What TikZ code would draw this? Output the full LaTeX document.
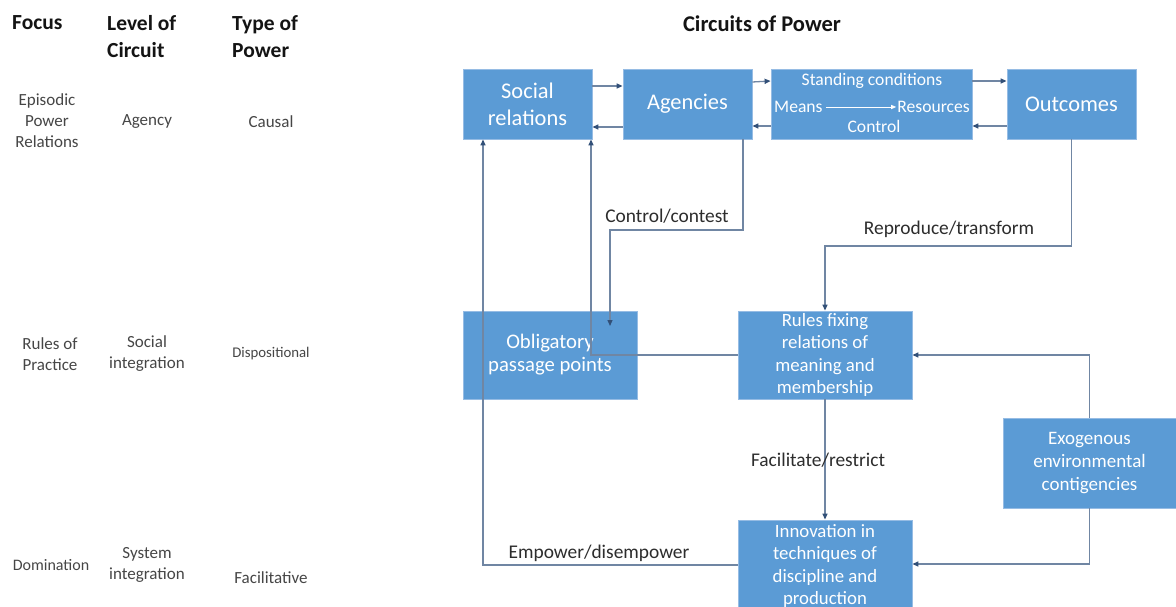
\documentclass[tikz,border=0pt]{standalone}
\usepackage{fontspec}
\setmainfont{Carlito}
\usetikzlibrary{arrows.meta}
\definecolor{boxfill}{RGB}{91,155,213}
\definecolor{boxedge}{RGB}{150,188,228}
\definecolor{wire}{RGB}{112,134,163}
\definecolor{tipc}{RGB}{50,80,120}
\definecolor{headc}{RGB}{20,20,20}
\definecolor{sidec}{RGB}{70,70,70}
\definecolor{labc}{RGB}{45,45,45}
\newcommand{\fs}[2]{\fontsize{#1}{#2}\selectfont}
\tikzset{
  box/.style={rectangle, fill=boxfill, draw=boxedge, line width=0.8pt,
    text=white, align=center, inner sep=2pt},
  wirearrow/.style={draw=wire, line width=1.3pt,
    -{Triangle[length=6pt,width=5pt,color=tipc]}},
  inlbl/.style={text=white, inner sep=0pt, font=\fs{17.6}{20}},
  head/.style={text=headc, font=\bfseries\fs{21.5}{27}, align=left, anchor=north west, inner sep=0pt},
  side/.style={text=sidec, font=\fs{17}{21}, align=center, inner sep=0pt},
  lbl/.style={text=labc, font=\fs{19.4}{22}, inner sep=0pt}
}
\begin{document}
\begin{tikzpicture}[x=1pt,y=-1pt]
\useasboundingbox (0,0) rectangle (1176,607);
\clip (0,0) rectangle (1176,607);
\fill[white] (0,0) rectangle (1176,607);

% column headings
\node[head] (hfocus) at (12,15) {Focus};
\node[head] (hlevel) at (107,15) {Level of\\Circuit};
\node[head] (htype) at (232,15) {Type of\\Power};
\node[text=headc, font=\bfseries\fs{22.5}{27}, inner sep=0pt] (htitle) at (762,24) {Circuits of Power};

% row labels
\node[side] (f1) at (47,121) {Episodic\\Power\\Relations};
\node[side] (l1) at (147,122) {Agency};
\node[side] (t1) at (271,122) {Causal};
\node[side] (f2) at (50,354) {Rules of\\Practice};
\node[side] (l2) at (147,354) {Social\\integration};
\node[side, font=\fs{14.8}{17}] (t2) at (271,354) {Dispositional};
\node[side, font=\fs{16}{18}] (f3) at (51,565) {Domination};
\node[side] (l3) at (147,565) {System\\integration};
\node[side] (t3) at (271,578) {Facilitative};

% boxes of the circuit
\node[box, minimum width=129, minimum height=70, font=\fs{22.4}{27}] (soc) at (527.5,104) {Social\\relations};
\node[box, minimum width=129, minimum height=70, font=\fs{22.4}{27}] (ag) at (687.5,104) {Agencies};
\node[box, minimum width=201, minimum height=70] (std) at (871.5,104) {};
\node[box, minimum width=129, minimum height=70, font=\fs{22.4}{27}] (out) at (1071.5,104) {Outcomes};
\node[box, minimum width=174, minimum height=88, font=\fs{20.7}{23}] (obl) at (550,355) {Obligatory\\passage points};
\node[box, minimum width=174, minimum height=88, font=\fs{18.8}{22.5}] (rul) at (825,355) {Rules fixing\\relations of\\meaning and\\membership};
\node[box, minimum width=173, minimum height=90, font=\fs{19}{23}] (exo) at (1089.5,463) {Exogenous\\environmental\\contigencies};
\node[box, minimum width=174, minimum height=92, font=\fs{18.8}{22.5}] (inn) at (825,566) {Innovation in\\techniques of\\discipline and\\production};

% contents of the standing-conditions box
\node[inlbl] (stc) at (872,81) {Standing conditions};
\node[inlbl, anchor=west] (mea) at (774,107) {Means};
\node[inlbl, anchor=east] (res) at (970,107) {Resources};
\node[inlbl] (ctl) at (874,126) {Control};
\draw[white, line width=0.9pt, -{Triangle[length=5pt,width=4pt]}] (mea.east) ++(3,0) -- ([xshift=-1pt]res.west);

% top-row connectors
\draw[wirearrow] (soc.east |- 0,86) -- (ag.west |- 0,86);
\draw[wirearrow] (ag.west |- 0,127) -- (soc.east |- 0,127);
\draw[wirearrow] (ag.east |- 0,82) -- (std.west |- 0,81);
\draw[wirearrow] (std.west |- 0,126) -- (ag.east |- 0,126);
\draw[wirearrow] (std.east |- 0,81) -- (out.west |- 0,81);
\draw[wirearrow] (out.west |- 0,126) -- (std.east |- 0,126);

% loops down to the rules of practice
\coordinate (oblin) at (610,326);
\draw[wirearrow] (ag.south -| 743,0) -- (743,230) -- (610,230) -- (oblin);
\draw[wirearrow] (out.south) -- (out.south |- 0,246) -- (rul.north |- 0,246) -- (rul.north);
\draw[wirearrow] (rul.west) -- (591,355) -- (soc.south -| 591,0);
\draw[wirearrow] (rul.south) -- (inn.north);
\draw[wirearrow] (exo.north) -- (exo.north |- rul.east) -- (rul.east);
\draw[wirearrow] (exo.south) -- (exo.south |- 0,564) -- (inn.east |- 0,564);
\draw[wirearrow] (inn.west |- 0,565) -- (483,565) -- (soc.south -| 483,0);

% connector labels
\node[lbl] (lctl) at (667,216) {Control/contest};
\node[lbl] (lrep) at (949,229) {Reproduce/transform};
\node[lbl] (lfac) at (818,460) {Facilitate/restrict};
\node[lbl] (lemp) at (599,553) {Empower/disempower};
\end{tikzpicture}
\end{document}
